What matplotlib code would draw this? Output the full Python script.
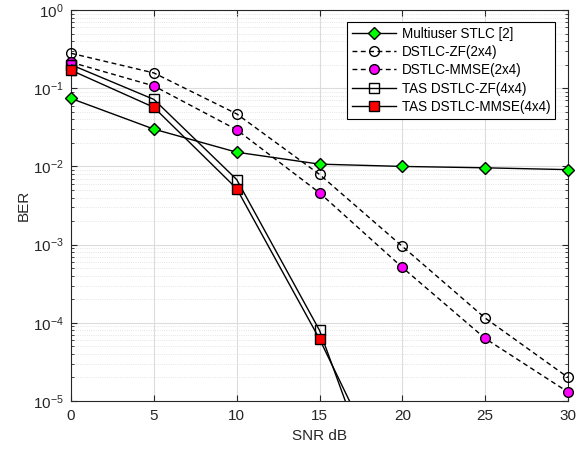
import numpy as np
import matplotlib.pyplot as plt
from matplotlib.ticker import LogLocator, NullFormatter

plt.rcParams['font.family'] = ['Liberation Sans', 'DejaVu Sans']
plt.rcParams['mathtext.fontset'] = 'custom'
plt.rcParams['mathtext.rm'] = 'Liberation Sans'

snr = [0, 5, 10, 15, 20, 25, 30]
snr_tas = [0, 5, 10, 15, 20]

ber_multiuser = [0.074, 0.030, 0.0152, 0.0107, 0.0100, 0.0096, 0.0091]
ber_zf = [0.28, 0.157, 0.047, 0.0079, 9.5e-4, 1.15e-4, 2.0e-5]
ber_mmse = [0.215, 0.107, 0.0295, 0.0046, 5.1e-4, 6.3e-5, 1.3e-5]
ber_tas_zf = [0.20, 0.072, 0.0068, 8.0e-5, 1.0e-7]
ber_tas_mmse = [0.17, 0.057, 0.0052, 6.2e-5, 4.0e-7]

fig = plt.figure(figsize=(5.85, 4.53), dpi=100)
ax = fig.add_axes([0.1214, 0.1148, 0.8496, 0.863])

ms = 7
ax.semilogy(snr, ber_multiuser, '-', color='k', lw=1, marker='D', ms=6.5,
            mfc='#00ff00', mec='k', label='Multiuser STLC [2]', clip_on=False, zorder=3)
ax.semilogy(snr, ber_zf, color='k', lw=1, ls=(0, (3.5, 2.5)), marker='o', ms=ms,
            mfc='none', mec='k', label='DSTLC-ZF(2x4)', clip_on=False, zorder=3)
ax.semilogy(snr, ber_mmse, color='k', lw=1, ls=(0, (3.5, 2.5)), marker='o', ms=ms,
            mfc='#ff00ff', mec='k', label='DSTLC-MMSE(2x4)', clip_on=False, zorder=3)
ax.semilogy(snr_tas, ber_tas_zf, '-', color='k', lw=1, marker='s', ms=ms,
            mfc='none', mec='k', label='TAS DSTLC-ZF(4x4)', zorder=3)
ax.semilogy(snr_tas, ber_tas_mmse, '-', color='k', lw=1, marker='s', ms=ms,
            mfc='#ff0000', mec='k', label='TAS DSTLC-MMSE(4x4)', zorder=3)
# markers on the left edge drawn unclipped, like the original
ax.semilogy(snr_tas[:1], ber_tas_zf[:1], ls='none', marker='s', ms=ms,
            mfc='none', mec='k', clip_on=False, zorder=3)
ax.semilogy(snr_tas[:1], ber_tas_mmse[:1], ls='none', marker='s', ms=ms,
            mfc='#ff0000', mec='k', clip_on=False, zorder=3)

ax.set_xlim(0, 30)
ax.set_ylim(1e-5, 1)
ax.set_xticks([0, 5, 10, 15, 20, 25, 30])
ax.yaxis.set_major_locator(LogLocator(base=10, numticks=10))
ax.yaxis.set_minor_locator(LogLocator(base=10, subs=np.arange(2, 10), numticks=100))
ax.yaxis.set_minor_formatter(NullFormatter())

ax.grid(True, which='major', color='#dcdcdc', lw=0.8, ls='-')
ax.grid(True, which='minor', color='#dcdcdc', lw=0.6, ls=':')
ax.set_axisbelow(True)
ax.tick_params(which='both', direction='in', top=True, right=True, labelsize=11,
               colors='#262626')
ax.tick_params(axis='x', pad=6)
ax.tick_params(axis='y', pad=5)
ax.tick_params(which='major', length=4)
ax.tick_params(which='minor', length=2)
for s in ax.spines.values():
    s.set_color('#262626')
    s.set_linewidth(0.8)

ax.set_xlabel('SNR dB', fontsize=11, color='#262626', labelpad=4)
ax.set_ylabel('BER', fontsize=11, color='#262626', labelpad=2)

leg = ax.legend(loc='upper right', bbox_to_anchor=(0.974, 0.970), fontsize=9.75,
                frameon=True, fancybox=False, edgecolor='k', framealpha=1,
                handlelength=3.3, borderpad=0.35, labelspacing=0.32,
                handletextpad=0.4, borderaxespad=0)
leg.get_frame().set_linewidth(0.8)

fig.savefig('out.png', dpi=100)
